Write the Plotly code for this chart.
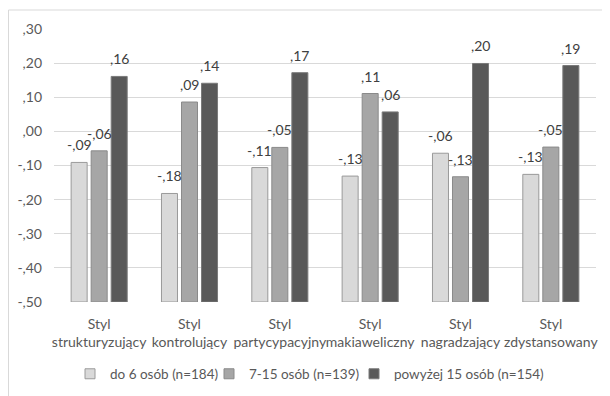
import plotly.graph_objects as go

categories = ["Styl<br>strukturyzujący", "Styl<br>kontrolujący", "Styl<br>partycypacyjny",
              "Styl<br>makiaweliczny", "Styl<br>nagradzający", "Styl<br>zdystansowany"]
series_names = ["do 6 osób (n=184)", "7-15 osób (n=139)", "powyżej 15 osób (n=154)"]
small = [-0.091, -0.182, -0.106, -0.131, -0.064, -0.126]
medium = [-0.057, 0.086, -0.047, 0.111, -0.133, -0.046]
large = [0.161, 0.141, 0.172, 0.057, 0.199, 0.193]
tick_vals = [-0.5, -0.4, -0.3, -0.2, -0.1, 0.0, 0.1, 0.2, 0.3]
tick_text = ["-,50", "-,40", "-,30", "-,20", "-,10", ",00", ",10", ",20", ",30"]

BASE = -0.5
colors = ["#d9d9d9", "#a6a6a6", "#595959"]
borders = ["#9a9a9a", "#8a8a8a", "#7a7a7a"]
FONT = "Lato"
W, H = 602, 388
legend_left_px = [62, 201, 346]  # left edge of each legend entry within the figure


def fmt(v):
    s = f"{abs(v):.2f}".replace("0.", ",", 1)
    return ("-" if round(v, 2) < 0 else "") + s


fig = go.Figure()
annotations = []
all_series = [small, medium, large]
legend_ids = ["legend", "legend2", "legend3"]
for i, (name, vals, c, bc) in enumerate(zip(series_names, all_series, colors, borders)):
    fig.add_trace(go.Bar(
        x=categories, y=[v - BASE for v in vals], base=BASE, name=name,
        marker=dict(color=c, line=dict(color=bc, width=1)),
        showlegend=False,
        hovertemplate="%{x}: " + "%{customdata}<extra></extra>",
        customdata=[fmt(v) for v in vals],
    ))
    fig.add_trace(go.Scatter(
        x=[None], y=[None], mode="markers", name=name, legend=legend_ids[i],
        marker=dict(symbol="square", size=10, color=c, line=dict(color=bc, width=1)),
        showlegend=True, hoverinfo="skip",
    ))
    for cat, v in zip(categories, vals):
        annotations.append(dict(
            x=cat, y=v, xref="x", yref="y", text=fmt(v), showarrow=False,
            xanchor="center", yanchor="bottom", xshift=(i - 1) * 20, yshift=7,
            font=dict(family=FONT, size=14, color="#404040"),
        ))

legend_style = dict(orientation="h", xanchor="left", yanchor="middle",
                    xref="container", yref="container", y=22 / H,
                    font=dict(family=FONT, size=13.5, color="#595959"),
                    itemwidth=30, bgcolor="rgba(0,0,0,0)")

fig.update_layout(
    width=W, height=H,
    margin=dict(l=46, r=14, t=21, b=94, autoexpand=False),
    paper_bgcolor="white", plot_bgcolor="white",
    barmode="group", bargap=0.335, bargroupgap=0.2,
    font=dict(family=FONT, size=13.5, color="#595959"),
    showlegend=True,
    legend=dict(x=legend_left_px[0] / W, **legend_style),
    legend2=dict(x=legend_left_px[1] / W, **legend_style),
    legend3=dict(x=legend_left_px[2] / W, **legend_style),
    xaxis=dict(showgrid=False, showline=False, ticks="", ticklabelstandoff=12,
               tickangle=0, automargin=False, tickfont=dict(size=14, color="#595959")),
    yaxis=dict(range=[-0.5, 0.3], tickvals=tick_vals, ticktext=tick_text,
               showgrid=True, gridcolor="#d9d9d9", gridwidth=1, zeroline=False,
               showline=False, ticks="", ticklabelstandoff=11, automargin=False,
               tickfont=dict(size=14, color="#595959")),
    annotations=annotations,
    shapes=[dict(type="rect", xref="paper", yref="paper",
                 x0=-45.5 / 542, x1=1.06, y0=-0.40, y1=1 + 19 / 273,
                 line=dict(color="#d9d9d9", width=1), fillcolor="rgba(0,0,0,0)", layer="above")],
)

fig.write_html("out.html")
